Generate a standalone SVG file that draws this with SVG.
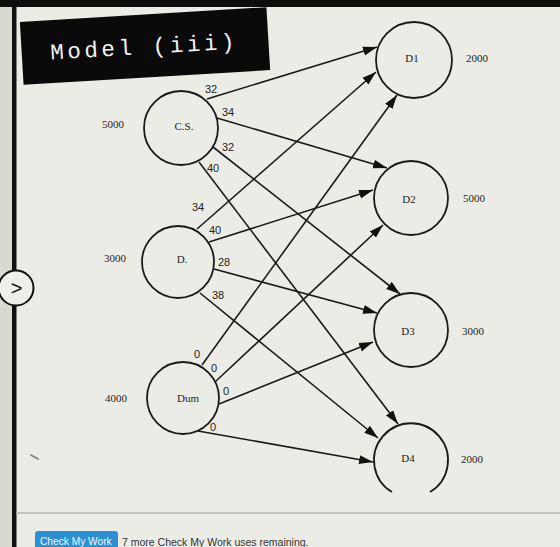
<svg xmlns="http://www.w3.org/2000/svg" width="560" height="547" viewBox="0 0 560 547">
<defs>
<marker id="arr" markerUnits="userSpaceOnUse" markerWidth="14" markerHeight="10" refX="14" refY="5" orient="auto">
<path d="M0,0.5 L14,5 L0,9.5 z" fill="#111"/>
</marker>
<style>
.node{fill:none;stroke:#1a1a1a;stroke-width:1.8}
.edge{stroke:#1a1a1a;stroke-width:1.6;fill:none;marker-end:url(#arr)}
.nl{font-family:"Liberation Serif",serif;font-size:11px;fill:#222;text-anchor:middle}
.el{font-family:"Liberation Sans",Arial,sans-serif;font-size:11px;fill:#222;text-anchor:middle}
</style>
</defs>
<rect x="0" y="0" width="560" height="547" fill="#ecece7"/>
<rect x="0" y="0" width="12" height="547" fill="#d9d9d2"/>
<rect x="12" y="0" width="4.5" height="547" fill="#111"/>
<rect x="0" y="0" width="560" height="7" fill="#0d0d0d"/>
<g id="title">
<rect x="21.5" y="14.5" width="247" height="63" fill="#0a0a0a" transform="rotate(-3.4 145 46)"/>
<text x="50" y="54" transform="rotate(-3.4 145 46)" font-family="Liberation Mono, DejaVu Sans Mono, monospace" font-size="22.5" letter-spacing="3.6" fill="#f2f2f2">Model (iii)</text>
</g>
<g id="nav">
<circle cx="16" cy="288" r="17.5" fill="#efefea" stroke="#111" stroke-width="2"/>
<text x="16.5" y="295" font-family="Liberation Sans, sans-serif" font-size="20" fill="#111" text-anchor="middle">&gt;</text>
</g>
<line x1="31" y1="455" x2="38" y2="459" stroke="#888" stroke-width="2" stroke-linecap="round"/>
<g id="connectors">
<line class="edge" x1="207" y1="99" x2="377" y2="47"/>
<line class="edge" x1="217" y1="118" x2="387" y2="168"/>
<line class="edge" x1="213" y1="147" x2="400" y2="294"/>
<line class="edge" x1="199" y1="162" x2="398" y2="424"/>
<line class="edge" x1="197" y1="229" x2="376" y2="72"/>
<line class="edge" x1="209" y1="242" x2="373" y2="190"/>
<line class="edge" x1="214" y1="269" x2="377" y2="313"/>
<line class="edge" x1="200" y1="293" x2="378" y2="438"/>
<line class="edge" x1="202" y1="365" x2="397" y2="95"/>
<line class="edge" x1="215" y1="382" x2="383" y2="225"/>
<line class="edge" x1="219" y1="404" x2="373" y2="342"/>
<line class="edge" x1="198" y1="431" x2="373" y2="462"/>
<text class="el" x="211" y="93">32</text>
<text class="el" x="228" y="116">34</text>
<text class="el" x="228" y="151">32</text>
<text class="el" x="213" y="172">40</text>
<text class="el" x="198" y="211">34</text>
<text class="el" x="215" y="234">40</text>
<text class="el" x="224" y="266">28</text>
<text class="el" x="218" y="299">38</text>
<text class="el" x="197" y="358">0</text>
<text class="el" x="214" y="372">0</text>
<text class="el" x="226" y="395">0</text>
<text class="el" x="213" y="431">0</text>
</g>
<g id="cs">
<circle class="node" cx="181" cy="128" r="37"/>
<text class="nl" x="184" y="130">C.S.</text>
<text class="nl" x="113" y="128">5000</text>
</g>
<g id="d">
<circle class="node" cx="178" cy="262" r="36"/>
<text class="nl" x="182" y="263">D.</text>
<text class="nl" x="115" y="262">3000</text>
</g>
<g id="dum">
<circle class="node" cx="183" cy="398" r="36"/>
<text class="nl" x="188" y="402">Dum</text>
<text class="nl" x="116" y="402">4000</text>
</g>
<g id="d1">
<circle class="node" cx="414" cy="60" r="38"/>
<text class="nl" x="412" y="62">D1</text>
<text class="nl" x="477" y="62">2000</text>
</g>
<g id="d2">
<circle class="node" cx="411" cy="198" r="37"/>
<text class="nl" x="409" y="203">D2</text>
<text class="nl" x="474" y="202">5000</text>
</g>
<g id="d3">
<circle class="node" cx="411" cy="330" r="37"/>
<text class="nl" x="408" y="335">D3</text>
<text class="nl" x="473" y="335">3000</text>
</g>
<g id="d4">
<path class="node" d="M430,492 A37 37 0 1 0 392,492"/>
<text class="nl" x="408" y="462">D4</text>
<text class="nl" x="472" y="463">2000</text>
</g>
<line x1="16" y1="513" x2="560" y2="513" stroke="#b4b4b0" stroke-width="1.5"/>
<g id="footer">
<rect x="35" y="531" width="83" height="22" rx="3" fill="#2b8fd3"/>
<text x="40" y="545" font-family="Liberation Sans, Arial, sans-serif" font-size="10.2" fill="#f4f8fc">Check My Work</text>
<text x="122" y="546" font-family="Liberation Sans, Arial, sans-serif" font-size="10.5" fill="#333">7 more Check My Work uses remaining.</text>
</g>
</svg>
